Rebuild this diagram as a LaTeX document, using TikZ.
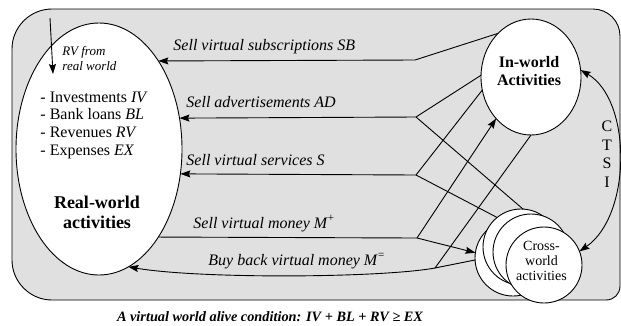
\documentclass[tikz,border=0pt]{standalone}
\usepackage{fontspec}
\setmainfont{Liberation Serif}
\usetikzlibrary{arrows.meta,shapes.geometric}
\definecolor{bggray}{RGB}{224,224,224}
\begin{document}
\begin{tikzpicture}[x=1pt,y=-1pt,line width=0.9pt,
  tip/.style={-{Stealth[length=10pt,width=7pt,inset=1.5pt]}},
  bitips/.style={{Stealth[length=10pt,width=7pt,inset=1.5pt]}-{Stealth[length=10pt,width=7pt,inset=1.5pt]}},
  world/.style={draw,fill=white,ellipse,inner sep=0pt,outer sep=0pt},
  cw/.style={draw,fill=white,circle,minimum size=76pt,inner sep=0pt,outer sep=0pt},
  lbl/.style={font=\fontsize{16}{19}\selectfont\itshape,anchor=base west,inner sep=0pt},
  item/.style={font=\fontsize{16}{19}\selectfont,anchor=base west,inner sep=0pt},
  big/.style={font=\fontsize{18}{20}\selectfont\bfseries,anchor=base,inner sep=0pt},
  inbig/.style={font=\fontsize{16}{19}\selectfont\bfseries,anchor=base,inner sep=0pt},
  small/.style={font=\fontsize{14}{16}\selectfont,anchor=base,inner sep=0pt},
  letter/.style={font=\fontsize{16}{19}\selectfont,anchor=base,inner sep=0pt},
  note/.style={font=\fontsize{13}{15}\selectfont\itshape,anchor=base west,inner sep=0pt},
  caption/.style={font=\fontsize{14.3}{17}\selectfont\bfseries\itshape,anchor=base,inner sep=0pt}
]
\useasboundingbox (0,0) rectangle (621,325);
% background panel
\draw[fill=bggray] (12,260) -- (12,49) .. controls (12,27) and (30,9) .. (52,9)
  -- (593,9) .. controls (608,9) and (620,21) .. (620,36)
  -- (620,286) .. controls (620,294) and (614,300) .. (606,300)
  -- (52,300) .. controls (30,300) and (12,282) .. (12,260) -- cycle;

% main shapes
\node[world,minimum width=166pt,minimum height=252pt] (real) at (99,149) {};
\node[world,minimum width=100pt,minimum height=116pt] (inw) at (531,77) {};
\node[cw] (cwa) at (513,258) {};
\node[cw] (cwb) at (521,247) {};
\node[cw] (cwc) at (531,252) {};
\node[cw] (cwd) at (544,265) {};

% junction points
\coordinate (b1) at (415,60);
\coordinate (b2) at (416,117);
\coordinate (b3) at (416,175);
\coordinate (b4) at (417,238);
\coordinate (b5) at (435,268);
\coordinate (rvs) at (50,18);
\coordinate (rve) at (53,74);

% connectors
\draw[tip] (inw.127) -- (b1) -- (real.56.5);
\draw (inw.178) -- (b2);
\draw (cwb.87) -- (b2);
\draw[tip] (b2) -- (real.21.7);
\draw (inw.195) -- (b3);
\draw (cwb.129.6) -- (b3);
\draw[tip] (b3) -- (real.-17.75);
\draw (real.-56.5) -- (b4);
\draw[tip] (b4) -- (cwa.172.5);
\draw[tip] (b4) -- (inw.230);
\draw[tip] (cwa.183) -- (b5) .. controls (380,278) and (200,279) .. (real.-76.1);
\draw (b5) -- (inw.270);
\draw[bitips] (cwd.21.5) .. controls (632,215) and (632,100) .. (inw.8);
\draw[tip] (rvs) -- (rve);

% texts
\node[note] (rv1) at (62,55) {RV from};
\node[note] (rv2) at (62,70) {real world};
\node[item] (it1) at (40,102) {- Investments \textit{IV}};
\node[item] (it2) at (40,119.7) {- Bank loans \textit{BL}};
\node[item] (it3) at (40,137.3) {- Revenues \textit{RV}};
\node[item] (it4) at (40,155) {- Expenses \textit{EX}};
\node[big] (rw1) at (97,208) {Real-world};
\node[big] (rw2) at (97,228) {activities};
\node[inbig] (iw1) at (529,67) {In-world};
\node[inbig] (iw2) at (529,85) {Activities};
\node[small] (cx1) at (541.5,250) {Cross-};
\node[small] (cx2) at (541.5,265) {world};
\node[small] (cx3) at (541.5,280) {activities};
\node[letter] (lc) at (607,131.5) {C};
\node[letter] (lt) at (607,150) {T};
\node[letter] (ls) at (607,168.5) {S};
\node[letter] (li) at (607,187) {I};
\node[lbl] (l1) at (173,50) {Sell virtual subscriptions SB};
\node[lbl] (l2) at (186,107) {Sell advertisements AD};
\node[lbl] (l3) at (186,165.5) {Sell virtual services S};
\node[lbl] (l4) at (193,228) {Sell virtual money M\textsuperscript{+}};
\node[lbl] (l5) at (208,265) {Buy back virtual money M\textsuperscript{=}};
\node[caption] (cap) at (270,321.5) {A virtual world alive condition: IV + BL + RV ≥ EX};
\end{tikzpicture}
\end{document}
